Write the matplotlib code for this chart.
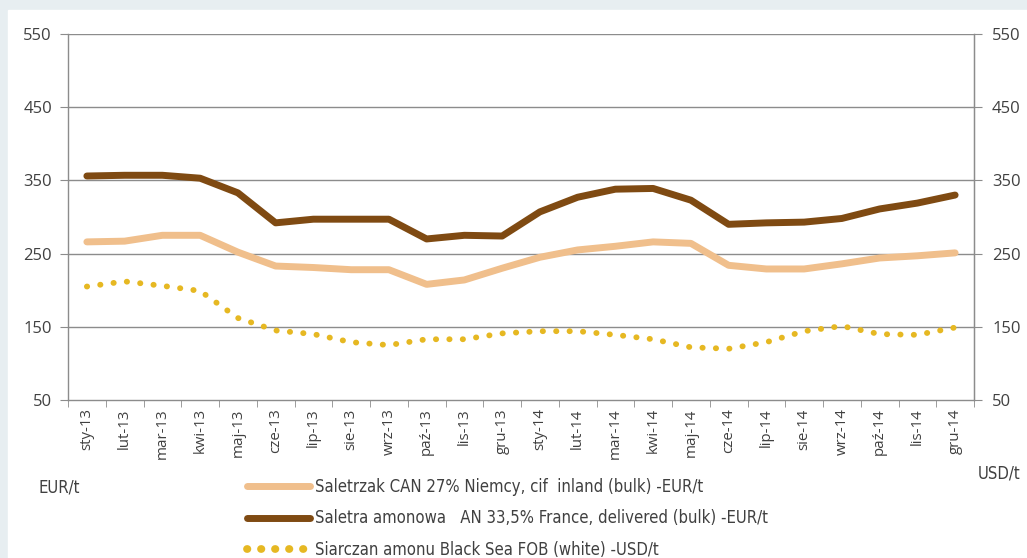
#!/usr/bin/env python3
"""Nitrogen fertiliser prices 2013-2014 (EUR/t and USD/t), Polish labels."""

import matplotlib

matplotlib.use("Agg")
import matplotlib.pyplot as plt
from matplotlib import font_manager
from matplotlib.lines import Line2D

MONTHS = ["sty", "lut", "mar", "kwi", "maj", "cze",
          "lip", "sie", "wrz", "paź", "lis", "gru"]
CATEGORIES = [f"{m}-13" for m in MONTHS] + [f"{m}-14" for m in MONTHS]

# CAN 27% Germany, cif inland (bulk), EUR/t
CAN_EUR = [266, 267, 275, 275, 252, 233, 231, 228, 228, 208, 214, 230,
           245, 255, 260, 266, 264, 234, 229, 229, 236, 244, 247, 251]
# AN 33.5% France, delivered (bulk), EUR/t
AN_EUR = [356, 357, 357, 353, 333, 292, 297, 297, 297, 270, 275, 274,
          307, 327, 338, 339, 323, 290, 292, 293, 298, 311, 319, 330]
# Ammonium sulphate Black Sea FOB (white), USD/t
AS_USD = [205, 212, 206, 199, 162, 145, 140, 129, 125, 133, 133, 141,
          144, 144, 139, 133, 122, 120, 129, 144, 151, 140, 139, 149]

LABELS = [
    "Saletrzak CAN 27% Niemcy, cif  inland (bulk) -EUR/t",
    "Saletra amonowa   AN 33,5% France, delivered (bulk) -EUR/t",
    "Siarczan amonu Black Sea FOB (white) -USD/t",
]

C_CAN = "#F0BF8C"
C_AN = "#7F4A12"
C_AS = "#E6B822"
GRID = "#8C8C8C"
TXT = "#404040"

# narrow face for the legend / unit labels (condensed DejaVu if present)
installed = {(f.name, f.stretch) for f in font_manager.fontManager.ttflist}
if any(n == "DejaVu Sans" and s == "condensed" for n, s in installed):
    NARROW = dict(family="DejaVu Sans", stretch="condensed", size=12)
else:
    NARROW = dict(family="DejaVu Sans", size=11)
plt.rcParams["font.family"] = ["Open Sans", "DejaVu Sans"]

fig = plt.figure(figsize=(10.27, 5.58), dpi=100)
fig.patch.set_facecolor("#E7EEF1")
# white panel behind the chart
fig.patches.append(plt.Rectangle((8 / 1027, 0), 1, 1 - 10 / 558,
                                 transform=fig.transFigure, color="white", zorder=-1))

ax = fig.add_axes([68 / 1027, 1 - 400 / 558, 906 / 1027, 366 / 558])
ax.set_facecolor("white")
x = list(range(len(CATEGORIES)))

ax.plot(x, CAN_EUR, color=C_CAN, lw=5.0, solid_capstyle="round", solid_joinstyle="round", zorder=3)
ax.plot(x, AN_EUR, color=C_AN, lw=5.0, solid_capstyle="round", solid_joinstyle="round", zorder=3)
ax.plot(x, AS_USD, color=C_AS, lw=4.2, linestyle=(0, (0.05, 2.25)),
        dash_capstyle="round", zorder=3)

ax.set_xlim(-0.5, len(CATEGORIES) - 0.5)
ax.set_ylim(50, 550)
ax.set_yticks([50, 150, 250, 350, 450, 550])
for yv in [150, 250, 350, 450, 550]:
    ax.axhline(yv, color=GRID, lw=1.0, zorder=1)

ax.spines["top"].set_visible(False)
for side in ["left", "right", "bottom"]:
    ax.spines[side].set_color(GRID)
    ax.spines[side].set_linewidth(1.0)

ax.set_xticks(x)
ax.set_xticklabels(CATEGORIES, rotation=90, fontsize=10.8, color=TXT)
ax.set_xticks([i + 0.5 for i in range(-1, len(CATEGORIES))], minor=True)
ax.tick_params(axis="x", which="major", length=0, pad=6)
ax.tick_params(axis="x", which="minor", length=5, color=GRID, direction="out")
ax.tick_params(axis="y", labelsize=12, labelcolor=TXT, color=GRID, length=5.5, pad=6)

ax2 = ax.twinx()
ax2.set_ylim(50, 550)
ax2.set_yticks([50, 150, 250, 350, 450, 550])
ax2.tick_params(axis="y", labelsize=12, labelcolor=TXT, color=GRID, length=6,
                direction="out", pad=7)
for side in ["top", "left", "bottom"]:
    ax2.spines[side].set_visible(False)
ax2.spines["right"].set_color(GRID)

unit_font = dict(NARROW, size=12)
fig.text(38 / 1027, 1 - 488 / 558, "EUR/t", color=TXT, va="center", **unit_font)
fig.text(978 / 1027, 1 - 474 / 558, "USD/t", color=TXT, va="center", **unit_font)

handles = [
    Line2D([], [], color=C_CAN, lw=5.0, solid_capstyle="round"),
    Line2D([], [], color=C_AN, lw=5.0, solid_capstyle="round"),
    Line2D([], [], color=C_AS, lw=5.6, linestyle=(0, (0.05, 1.75)), dash_capstyle="round"),
]
fig.legend(handles, LABELS, loc="upper left", bbox_to_anchor=(247 / 1027, 1 - 478 / 558),
           frameon=False, handlelength=3.8, handletextpad=0.3, labelspacing=0.8,
           borderpad=0, borderaxespad=0, prop=NARROW, labelcolor=TXT)

fig.savefig("out.png", dpi=100)
